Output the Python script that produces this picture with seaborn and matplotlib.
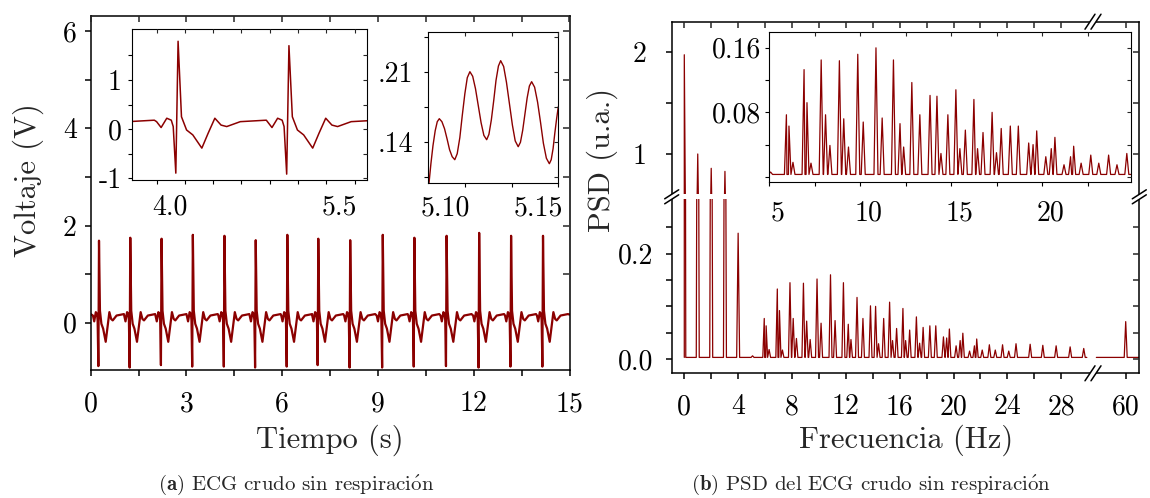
import numpy as np
import pandas as pd
import seaborn as sns
import matplotlib.pyplot as plt
from matplotlib.transforms import ScaledTranslation

sns.set_style("ticks")
plt.rcParams["font.family"] = "cmr10"
plt.rcParams["mathtext.fontset"] = "cm"
plt.rcParams["axes.formatter.use_mathtext"] = True
plt.rcParams["axes.unicode_minus"] = False

RED = "#8b0000"
W, H = 1150, 498

# ---- ECG (panel a): R-peak times (s) and R / Q amplitudes (V)
r_time = [0.26, 1.24, 2.22, 3.20, 4.19, 5.17, 6.16, 7.13, 8.13, 9.15,
          10.14, 11.15, 12.17, 13.17, 14.17]
r_amp = [1.69, 1.75, 1.73, 1.81, 1.79, 1.70, 1.81, 1.73, 1.70, 1.81,
         1.75, 1.79, 1.85, 1.79, 1.79]
q_amp = [-0.89, -0.92, -0.87, -0.90, -0.90, -0.92, -0.90, -0.87, -0.92,
         -0.92, -0.90, -0.89, -0.92, -0.90, -0.90]
# one beat around its R peak (s from R, V)
beat_dt = [-0.19, -0.15, -0.10, -0.06, -0.043, -0.02, 0.0, 0.03, 0.075,
           0.13, 0.21, 0.265, 0.325, 0.38, 0.43, 0.55, 0.78]
beat_v = [0.15, 0.03, 0.22, 0.18, 0.05, "Q", "R", 0.25, -0.02,
          -0.12, -0.39, -0.09, 0.22, 0.08, 0.05, 0.15, 0.18]
ecg_first, ecg_last = 0.18, 0.17

# 60 Hz ripple in the small inset (s, V)
rip_t = [5.0807, 5.0817, 5.0828, 5.0840, 5.0851, 5.0862,
         5.0876, 5.0890, 5.0904, 5.0917, 5.0931, 5.0945,
         5.0958, 5.0972, 5.0985, 5.0999, 5.1012, 5.1026,
         5.1041, 5.1056, 5.1071, 5.1086, 5.1101, 5.1116,
         5.1128, 5.1141, 5.1154, 5.1166, 5.1179, 5.1191,
         5.1207, 5.1222, 5.1238, 5.1254, 5.1269, 5.1285,
         5.1297, 5.1309, 5.1321, 5.1333, 5.1345, 5.1357,
         5.1373, 5.1389, 5.1405, 5.1420, 5.1436, 5.1452,
         5.1462, 5.1472, 5.1481, 5.1491, 5.1500]
rip_v = [0.099, 0.118, 0.136, 0.151, 0.160, 0.163,
         0.160, 0.153, 0.1425, 0.132, 0.125, 0.122,
         0.128, 0.144, 0.166, 0.188, 0.204, 0.210,
         0.2054, 0.193, 0.176, 0.159, 0.1463, 0.142,
         0.1473, 0.1618, 0.1815, 0.2013, 0.2157, 0.221,
         0.2152, 0.1995, 0.178, 0.1565, 0.1408, 0.135,
         0.1394, 0.1513, 0.1675, 0.1838, 0.1957, 0.200,
         0.1945, 0.1795, 0.159, 0.1385, 0.1235, 0.118,
         0.122, 0.133, 0.148, 0.163, 0.175]

# ---- PSD (panel b): peak frequency (Hz) and height (u.a.)
psd_f = [0.0, 1.0, 2.0, 3.02, 4.0, 5.07,
         5.94, 6.08, 6.30, 6.91, 7.07, 7.29, 7.85, 8.09, 8.33, 8.85, 9.09,
         9.35, 9.86, 10.16, 10.86, 11.20, 11.82, 12.18, 12.38, 12.83, 13.27,
         13.83, 14.21, 14.43, 14.81, 15.25, 15.47, 15.77, 16.24, 16.44, 16.74,
         17.24, 17.48, 17.74, 18.24, 18.68, 19.25, 19.49, 19.69, 20.19, 20.49,
         20.69, 21.19, 21.55, 21.72, 22.13, 22.66, 23.10, 23.64, 24.10, 24.64,
         25.69, 26.63, 27.62, 28.66, 29.67]
psd_h = [1.97, 1.00, 0.86, 0.83, 0.239, 0.006,
         0.077, 0.063, 0.018, 0.133, 0.092, 0.017, 0.145, 0.077, 0.039, 0.144, 0.072,
         0.037, 0.152, 0.068, 0.160, 0.073, 0.145, 0.066, 0.037, 0.117, 0.077,
         0.101, 0.100, 0.029, 0.077, 0.108, 0.035, 0.058, 0.096, 0.035, 0.055,
         0.080, 0.030, 0.060, 0.063, 0.063, 0.042, 0.040, 0.057, 0.025, 0.035,
         0.049, 0.015, 0.025, 0.038, 0.017, 0.027, 0.017, 0.027, 0.015, 0.029,
         0.028, 0.026, 0.025, 0.023, 0.020]
line_f = [60.0]
line_h = [0.071]
psd_base = 0.003

# broken frequency axis: 30.33 .. 57.57 Hz is cut out
BRK_LO, BRK_HI, EPS = 30.33, 57.57, 1e-3


def fwd(f):
    f = np.asarray(f, float)
    mid = BRK_LO + (f - BRK_LO) * EPS
    hi = BRK_LO + (BRK_HI - BRK_LO) * EPS + (f - BRK_HI)
    return np.where(f <= BRK_LO, f, np.where(f >= BRK_HI, hi, mid))


def inv(u):
    u = np.asarray(u, float)
    top = BRK_LO + (BRK_HI - BRK_LO) * EPS
    mid = BRK_LO + (u - BRK_LO) / EPS
    hi = u - top + BRK_HI
    return np.where(u <= BRK_LO, u, np.where(u >= top, hi, mid))


# assemble the ECG trace from the beat shape
t, v = [0.0], [ecg_first]
for rt, ra, qa in zip(r_time, r_amp, q_amp):
    for dt, bv in zip(beat_dt, beat_v):
        t.append(rt + dt)
        v.append(ra if bv == "R" else qa if bv == "Q" else bv)
t.append(15.0)
v.append(ecg_last)
ecg = pd.DataFrame({"t": t, "v": v})
ripple = pd.DataFrame({"t": rip_t, "v": rip_v})


def spikes(freqs, heights, lo, hi, w=0.11):
    pts = [(lo, psd_base), (hi, psd_base)]
    for f, h in zip(freqs, heights):
        pts += [(f - w, psd_base), (f, h), (f + w, psd_base)]
    pts = sorted(p for p in pts if lo <= p[0] <= hi)
    return pd.DataFrame(pts, columns=["f", "p"])


psd_low = spikes(psd_f, psd_h, 0.0, 29.9)
psd_hi = spikes(line_f, line_h, 57.82, 61.01)


def box(x0, y0, x1, y1):
    return [x0 / W, 1 - y1 / H, (x1 - x0) / W, (y1 - y0) / H]


def trace(ax, df, x, y, lw):
    sns.lineplot(data=df, x=x, y=y, ax=ax, color=RED, lw=lw,
                 estimator=None, sort=False, legend=False)
    ax.set_xlabel("")
    ax.set_ylabel("")


def mirror(ax, xt=None, yt=None, scaled=False, lw=1.0, ln=4):
    if xt is not None:
        tw = ax.twiny()
        if scaled:
            tw.set_xscale("function", functions=(fwd, inv))
        tw.set_xlim(ax.get_xlim())
        tw.set_xticks(xt)
        tw.tick_params(axis="x", direction="in", length=ln, width=lw,
                       labeltop=False, top=True)
        for s in tw.spines.values():
            s.set_visible(False)
    if yt is not None:
        tw = ax.twinx()
        tw.set_ylim(ax.get_ylim())
        tw.set_yticks(yt)
        tw.tick_params(axis="y", direction="in", length=ln, width=lw,
                       labelright=False, right=True)
        for s in tw.spines.values():
            s.set_visible(False)


def style(ax, lw, fs, xpad, ypad, ln=4):
    ax.tick_params(which="both", direction="out", length=ln, width=lw,
                   labelsize=fs, colors="black")
    ax.tick_params(axis="x", pad=xpad)
    ax.tick_params(axis="y", pad=ypad)
    for s in ax.spines.values():
        s.set_linewidth(lw)
        s.set_color("black")


def shift(ax, dx_px):
    off = ScaledTranslation(dx_px / 100, 0, fig.dpi_scale_trans)
    for lab in ax.get_xticklabels():
        lab.set_transform(lab.get_transform() + off)


fig = plt.figure(figsize=(W / 100, H / 100), dpi=100)
fig.patch.set_facecolor("white")
FS = 20

# ---------------- panel (a)
ax = fig.add_axes(box(90.7, 16, 569.5, 370))
trace(ax, ecg, "t", "v", 1.6)
ax.set_xlim(0, 15)
ax.set_ylim(-0.97, 6.31)
mirror(ax, xt=np.arange(0, 15.1, 1.5), yt=[1, 2, 3, 4, 5, 6], lw=1.1)
ax.set_xticks([0, 3, 6, 9, 12, 15], ["0", "3", "6", "9", "12", "15"])
ax.set_xticks([1.5, 4.5, 7.5, 10.5, 13.5], minor=True)
ax.set_yticks([0, 2, 4, 6], ["0", "2", "4", "6"])
ax.set_yticks([1, 3, 5], minor=True)
style(ax, 1.1, FS, 11, 6)

in1 = fig.add_axes(box(131.7, 29, 367, 180))
trace(in1, ecg, "t", "v", 1.1)
in1.set_xlim(3.78, 5.86)
in1.set_ylim(-1.04, 2.04)
mirror(in1, xt=np.arange(4.0, 5.8, 0.25), yt=[-1, -0.5, 0, 0.5, 1, 1.5], lw=0.8, ln=3)
in1.set_xticks([4.0, 5.5], ["4.0", "5.5"])
in1.set_xticks([4.25, 4.5, 4.75, 5.0, 5.25, 5.75], minor=True)
in1.set_yticks([-1, 0, 1], ["-1", "0", "1"])
in1.set_yticks([-0.5, 0.5, 1.5], minor=True)
style(in1, 0.8, FS, 7, 4, ln=3)
shift(in1, 13)

in2 = fig.add_axes(box(428.3, 31.7, 558.3, 182.7))
trace(in2, ripple, "t", "v", 1.0)
in2.set_xlim(5.0803, 5.150)
in2.set_ylim(0.099, 0.25)
mirror(in2, xt=[5.10, 5.125, 5.15], yt=[0.105, 0.14, 0.175, 0.21, 0.245], lw=0.8, ln=3)
in2.set_xticks([5.10, 5.15], ["5.10", "5.15"])
in2.set_xticks([5.125], minor=True)
in2.set_yticks([0.14, 0.21], [".14", ".21"])
in2.set_yticks([0.105, 0.175, 0.245], minor=True)
style(in2, 0.8, FS, 6, 8, ln=3)
shift(in2, -20)

# ---------------- panel (b)
ftick = [0, 4, 8, 12, 16, 20, 24, 28, 60]
fminor = [2, 6, 10, 14, 18, 22, 26]

up = fig.add_axes(box(671.7, 21.7, 1139.3, 194.5))
trace(up, psd_low, "f", "p", 0.9)
up.set_xscale("function", functions=(fwd, inv))
up.set_xlim(-0.935, 61.01)
up.set_ylim(0.604, 2.293)
mirror(up, xt=ftick + fminor, scaled=True, yt=[1, 1.5, 2], lw=1.1)
up.set_yticks([1, 2], ["1", "2"])
up.set_yticks([1.5], minor=True)
style(up, 1.1, FS, 11, 14)
up.tick_params(axis="x", which="both", bottom=False, labelbottom=False)
up.spines["bottom"].set_visible(False)

lo = fig.add_axes(box(671.7, 199, 1139.3, 373.3))
trace(lo, psd_low, "f", "p", 0.9)
trace(lo, psd_hi, "f", "p", 0.9)
lo.set_xscale("function", functions=(fwd, inv))
lo.set_xlim(-0.935, 61.01)
lo.set_ylim(-0.0272, 0.304)
mirror(lo, yt=[0, 0.05, 0.1, 0.15, 0.2, 0.25], lw=1.1)
lo.set_xticks(ftick, [str(f) for f in ftick])
lo.set_xticks(fminor, minor=True)
lo.set_yticks([0, 0.2], ["0.0", "0.2"])
lo.set_yticks([0.05, 0.1, 0.15, 0.25], minor=True)
style(lo, 1.1, FS, 11, 9)
lo.spines["top"].set_visible(False)

in3 = fig.add_axes(box(769.3, 31.7, 1131, 181.7))
trace(in3, psd_low, "f", "p", 0.9)
in3.set_xlim(5, 24.87)
in3.set_ylim(-0.006, 0.18)
mirror(in3, xt=[7.5, 10, 12.5, 15, 17.5, 20, 22.5], yt=[0, 0.04, 0.08, 0.12, 0.16], lw=0.8, ln=3)
in3.set_xticks([5, 10, 15, 20], ["5", "10", "15", "20"])
in3.set_xticks([7.5, 12.5, 17.5, 22.5], minor=True)
in3.set_yticks([0.08, 0.16], ["0.08", "0.16"])
in3.set_yticks([0, 0.04, 0.12], minor=True)
style(in3, 0.8, FS, 10, 3, ln=3)
shift(in3, 8)

# ---------------- break marks, drawn in pixel space
ov = fig.add_axes([0, 0, 1, 1])
ov.set_xlim(0, W)
ov.set_ylim(H, 0)
ov.axis("off")


def break_mark(cx, cy, d, g):
    (dx, dy), (gx, gy) = d, g
    p1 = (cx - dx / 2 - gx / 2, cy - dy / 2 - gy / 2)
    p2 = (cx + dx / 2 - gx / 2, cy + dy / 2 - gy / 2)
    p3 = (p2[0] + gx, p2[1] + gy)
    p4 = (p1[0] + gx, p1[1] + gy)
    ov.fill([p1[0], p2[0], p3[0], p4[0]], [p1[1], p2[1], p3[1], p4[1]],
            color="white", lw=0, zorder=1)
    ov.plot([p1[0], p2[0]], [p1[1], p2[1]], color="black", lw=1.1, zorder=2)
    ov.plot([p4[0], p3[0]], [p4[1], p3[1]], color="black", lw=1.1, zorder=2)


break_mark(671.7, 196.8, (14, -9), (0, 5))
break_mark(1139.3, 196.8, (14, -9), (0, 5))
break_mark(1093, 373.3, (10, -15), (6, 0))
break_mark(1093, 21.7, (10, -15), (6, 0))

# ---------------- labels and captions
LAB = 22
fig.text(28 / W, 1 - 180 / H, "Voltaje (V)", rotation=90, ha="center", va="center", fontsize=LAB)
fig.text(330 / W, 1 - 440 / H, "Tiempo (s)", ha="center", va="center", fontsize=LAB)
fig.text(602 / W, 1 - 160 / H, "PSD (u.a.)", rotation=90, ha="center", va="center", fontsize=LAB)
fig.text(906 / W, 1 - 440 / H, "Frecuencia (Hz)", ha="center", va="center", fontsize=LAB)
fig.text(296 / W, 1 - 485 / H, r"$\mathbf{(a)}$ ECG crudo sin respiraci$\acute{\mathrm{o}}$n",
         ha="center", va="center", fontsize=15)
fig.text(871 / W, 1 - 485 / H, r"$\mathbf{(b)}$ PSD del ECG crudo sin respiraci$\acute{\mathrm{o}}$n",
         ha="center", va="center", fontsize=15)

fig.savefig("out.png", dpi=100)
